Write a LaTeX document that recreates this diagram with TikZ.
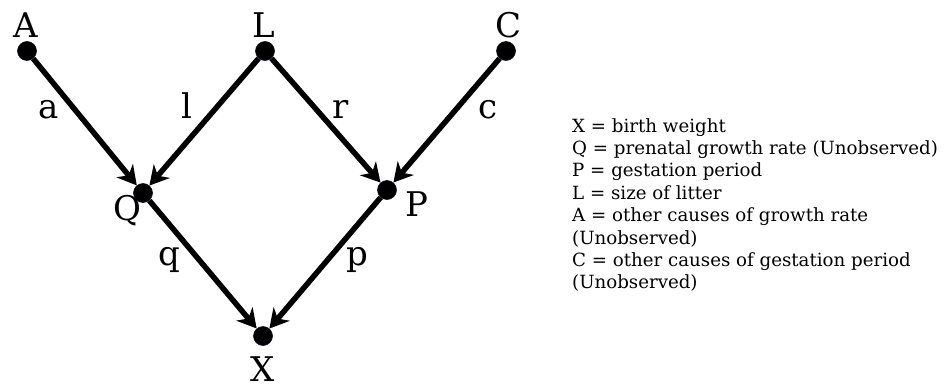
\documentclass[tikz,border=0pt]{standalone}
\usepackage{fontspec}
\setmainfont{DejaVu Serif}
\usetikzlibrary{arrows.meta, positioning}
\definecolor{cDot}{HTML}{0B0F24}

\begin{document}
\begin{tikzpicture}[
  x=1pt, y=-1pt,
  >={Stealth[length=19pt, width=21pt, inset=6pt]},
  dot/.style={circle, fill=black, draw=cDot, line width=0.6pt,
              minimum size=19pt, inner sep=0pt},
  var/.style={font=\fontsize{34}{40}\selectfont, anchor=base, inner sep=0pt},
  coef/.style={font=\fontsize{34}{40}\selectfont, anchor=base, inner sep=0pt},
  flow/.style={->, line width=5.5pt, draw=black},
  legend/.style={font=\fontsize{18.2}{22.4}\selectfont, align=left,
                 anchor=north west, inner sep=0pt},
]
\useasboundingbox (0,0) rectangle (945,388);

% =========================== path diagram ===========================
\node[dot] (A) at (27,51)  {};
\node[dot] (L) at (265,51) {};
\node[dot] (C) at (506,51) {};
\node[dot] (Q) at (143,193) {};
\node[dot] (P) at (387,190) {};
\node[dot] (X) at (263,336) {};

% variable names
\node[var] (nA) at (26,37)   {A};
\node[var] (nL) at (264,37)  {L};
\node[var] (nC) at (509,37)  {C};
\node[var] (nQ) at (127,220) {Q};
\node[var] (nP) at (417,216) {P};
\node[var] (nX) at (263,381) {X};

% path coefficients
\node[coef] (ca) at (49,118)  {a};
\node[coef] (cl) at (187,118) {l};
\node[coef] (cr) at (341,118) {r};
\node[coef] (cc) at (488,118) {c};
\node[coef] (cq) at (169,265) {q};
\node[coef] (cp) at (357,265) {p};

\foreach \a/\b in {A/Q, L/Q, L/P, C/P, Q/X, P/X}
  \draw[flow] (\a) -- (\b);

% =========================== key ===========================
\node[legend] (key) at (572,118) {X = birth weight\\
  Q = prenatal growth rate (Unobserved)\\
  P = gestation period\\
  L = size of litter\\
  A = other causes of growth rate\\
  (Unobserved)\\
  C = other causes of gestation period\\
  (Unobserved)};

\end{tikzpicture}
\end{document}
